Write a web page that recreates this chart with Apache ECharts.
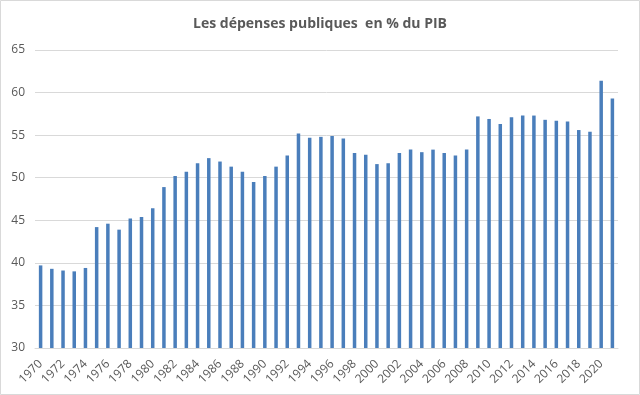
<!DOCTYPE html>
<html><head><meta charset="utf-8">
<script src="https://cdn.jsdelivr.net/npm/echarts@6/dist/echarts.min.js"></script>
<style>html,body{margin:0;padding:0;background:#fff}#c{width:640px;height:395px}</style>
</head><body><div id="c"></div>
<script>
var years = ['1970','1971','1972','1973','1974','1975','1976','1977','1978','1979','1980','1981','1982','1983','1984','1985','1986','1987','1988','1989','1990','1991','1992','1993','1994','1995','1996','1997','1998','1999','2000','2001','2002','2003','2004','2005','2006','2007','2008','2009','2010','2011','2012','2013','2014','2015','2016','2017','2018','2019','2020','2021'];
var depenses = [39.7,39.3,39.1,39.0,39.4,44.2,44.6,43.9,45.2,45.4,46.4,48.9,50.2,50.7,51.7,52.3,51.9,51.3,50.7,49.5,50.2,51.3,52.6,55.2,54.7,54.8,54.9,54.6,52.9,52.7,51.6,51.7,52.9,53.3,53.0,53.3,52.9,52.6,53.3,57.2,56.9,56.3,57.1,57.3,57.3,56.8,56.7,56.6,55.6,55.4,61.4,59.3];
var titleText = 'Les dépenses publiques  en % du PIB';
var chart = echarts.init(document.getElementById('c'));
chart.setOption({
  animation: false,
  title: {text: titleText, left: 'center', top: 12, textStyle: {fontFamily: 'Open Sans', fontSize: 14, fontWeight: 'bold', color: '#595959'}},
  graphic: [{type: 'rect', shape: {x: 0.5, y: 0.5, width: 639, height: 394}, style: {fill: 'none', stroke: '#d9d9d9', lineWidth: 1}}],
  grid: {left: 35, right: 22, top: 50, bottom: 47},
  xAxis: {type: 'category', data: years,
    axisLine: {lineStyle: {color: '#d9d9d9'}}, axisTick: {show: false},
    axisLabel: {interval: 1, rotate: 45, color: '#595959', fontSize: 12, fontFamily: 'Open Sans', margin: 14}},
  yAxis: {type: 'value', min: 30, max: 65, interval: 5,
    axisLine: {show: false}, axisTick: {show: false},
    splitLine: {lineStyle: {color: '#d9d9d9'}},
    axisLabel: {color: '#595959', fontSize: 12, fontFamily: 'Open Sans', margin: 10}},
  series: [{type: 'bar', data: depenses, barWidth: 3.5, itemStyle: {color: '#4a7ebb'}}]
});
</script></body></html>
